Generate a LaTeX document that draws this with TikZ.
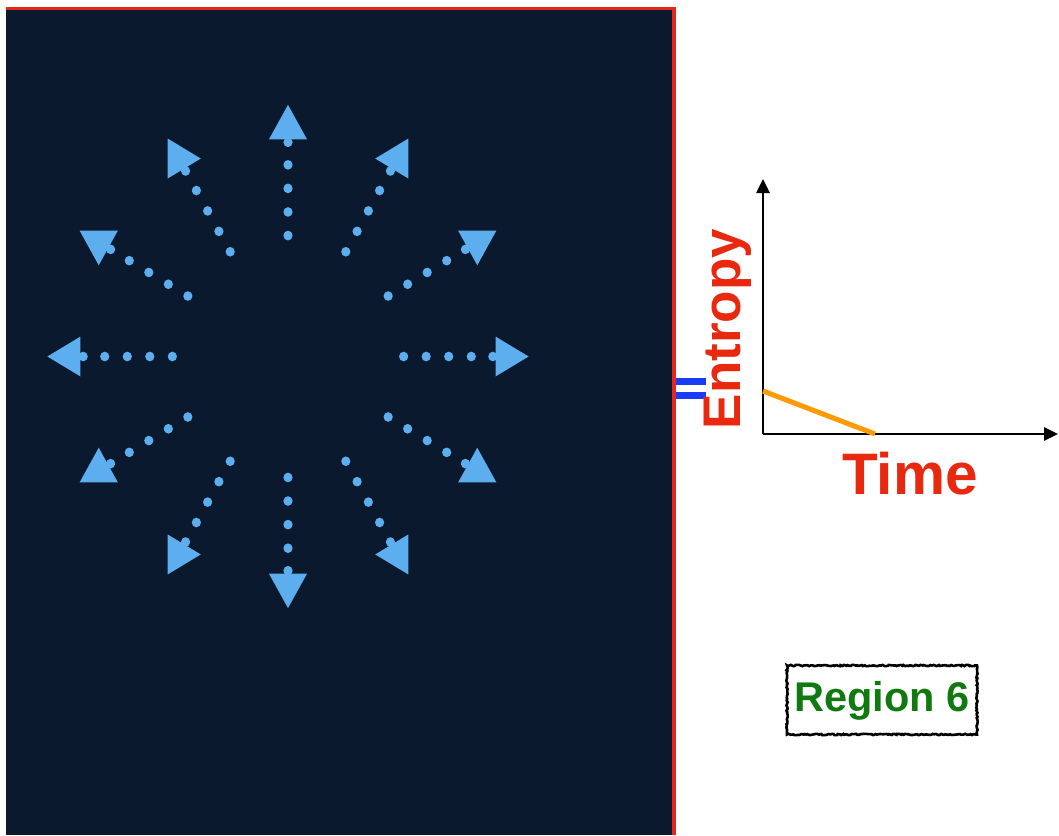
\documentclass[tikz,border=0pt]{standalone}
\usepackage{fontspec}
\setmainfont{Liberation Sans}
\usetikzlibrary{arrows.meta,decorations.pathmorphing,calc}

\definecolor{panelbg}{HTML}{0B192E}
\definecolor{panelred}{HTML}{E8251A}
\definecolor{burstblue}{HTML}{5CAEEE}
\definecolor{eqblue}{HTML}{1A3CF5}
\definecolor{labelred}{HTML}{E8290F}
\definecolor{curveorange}{HTML}{FF9A05}
\definecolor{regiongreen}{HTML}{107A10}

\tikzset{
  axis/.style={line width=2.6pt, -{Triangle[width=13pt,length=14pt]}},
  burstdot/.style={fill=burstblue},
  bursthead/.style={fill=burstblue},
  biglabel/.style={text=labelred, font=\bfseries\fontsize{53}{60}\selectfont, inner sep=0pt},
  timelabel/.style={biglabel, font=\bfseries\fontsize{58.5}{66}\selectfont},
  regionbox/.style={draw=black, line width=2.6pt, fill=white,
    decorate, decoration={random steps, segment length=1.6pt, amplitude=0.7pt},
    minimum width=190pt, minimum height=69pt, inner sep=0pt},
  regiontext/.style={text=regiongreen, font=\bfseries\fontsize{41.5}{48}\selectfont}
}

\begin{document}
\begin{tikzpicture}[x=1pt, y=-1pt]
  \useasboundingbox (0,0) rectangle (1059,835);
  \fill[white] (0,0) rectangle (1059,835);

  % dark panel with red top and right edges
  \fill[panelbg] (6,8) rectangle (674,835);
  \draw[panelred, line width=3pt] (6,8.5) -- (674,8.5);
  \draw[panelred, line width=4pt] (674,7) -- (674,835);

  % radial burst of dotted arrows
  \begin{scope}[shift={(288,356.5)}, xscale=0.98, yscale=-1.025]
    \foreach \a in {0,30,...,330} {
      \foreach \r in {118,141,164,187,209}
        \fill[burstdot] (\a:\r) circle (4.7);
      \fill[bursthead, shift={(\a:223)}]
        (\a:22.5) -- (\a+120:22.5) -- (\a+240:22.5) -- cycle;
    }
  \end{scope}

  % equals sign
  \draw[eqblue, line width=7pt] (676,381.5) -- (706,381.5);
  \draw[eqblue, line width=7pt] (676,395.5) -- (706,395.5);

  % entropy/time plot
  \coordinate (origin) at (763,434);
  \coordinate (ytip) at (763,179);
  \coordinate (xtip) at (1058,434);
  \coordinate (cstart) at (763,391);
  \coordinate (cend) at (875,434);
  \draw[axis] (origin) -- (ytip);
  \draw[axis] (origin) -- (xtip);
  \draw[curveorange, line width=5pt] (cstart) -- (cend);

  \node[biglabel, rotate=90] (entropy) at (728,329) {Entropy};
  \node[timelabel] (time) at (910,474) {Time};

  % region label
  \node[regionbox] (regbox) at (882,700) {};
  \node[regiontext] (region) at (882,701) {Region 6};
\end{tikzpicture}
\end{document}
